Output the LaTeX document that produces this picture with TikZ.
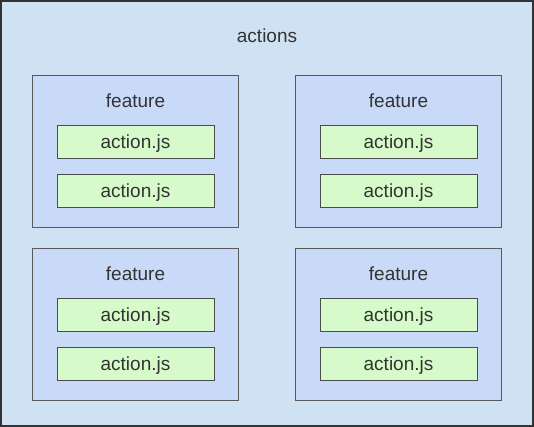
\documentclass[tikz,border=0pt]{standalone}
\usepackage{fontspec}
\setmainfont{Liberation Sans}
\definecolor{outerfill}{HTML}{CFE2F3}
\definecolor{featfill}{HTML}{C9DAF8}
\definecolor{actfill}{HTML}{D6FAC9}
\definecolor{txt}{HTML}{333333}
\begin{document}
\begin{tikzpicture}[x=1pt,y=-1pt,
  outerbox/.style={draw=black!80, fill=outerfill, line width=1.2pt},
  featbox/.style={draw=black!65, fill=featfill, line width=1pt, minimum width=206pt, minimum height=152pt, inner sep=0pt},
  actbox/.style={draw=black!70, fill=actfill, line width=1pt, minimum width=157pt, minimum height=33pt, inner sep=0pt},
  lbl/.style={font=\fontsize{19}{22}\selectfont, text=txt, inner sep=0pt}]
\useasboundingbox (0,0) rectangle (534,427);
\draw[outerbox] (1,1) rectangle (533,426);
\node[lbl] (title) at (267,36) {actions};
\foreach \n/\x/\y in {a/32/75, b/295/75, c/32/248, d/295/248} {
  \node[featbox, anchor=north west] (f\n) at (\x,\y) {};
  \node[lbl] (l\n) at ([yshift=-25.5pt]f\n.north) {feature};
  \node[actbox] (a1\n) at ([yshift=-67pt]f\n.north) {};
  \node[actbox] (a2\n) at ([yshift=-116pt]f\n.north) {};
  \node[lbl] (t1\n) at ([yshift=-1.5pt]a1\n.center) {action.js};
  \node[lbl] (t2\n) at ([yshift=-1.5pt]a2\n.center) {action.js};
}
\end{tikzpicture}
\end{document}
